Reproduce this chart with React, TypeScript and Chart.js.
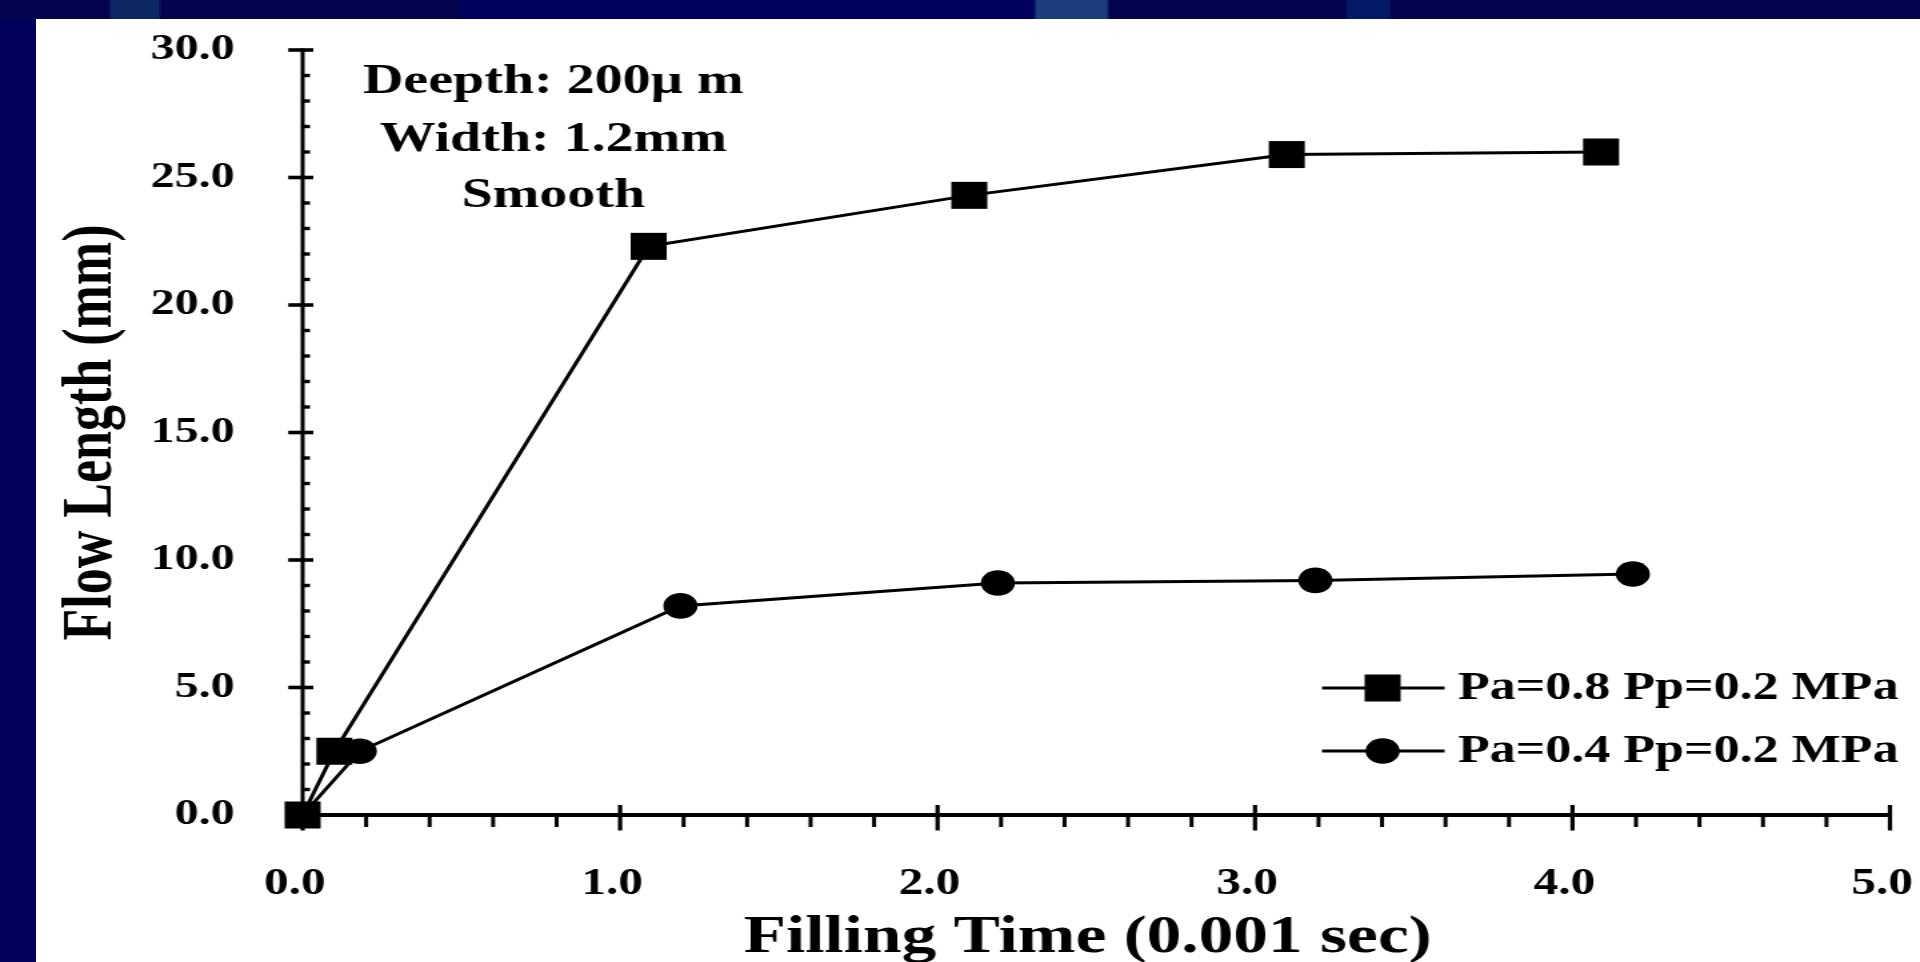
import React, { useEffect, useRef } from "react";
import { Chart, registerables } from "chart.js";

Chart.register(...registerables);

// ---- data ----
const squareTimes = [0, 0.1, 1.09, 2.1, 3.1, 4.09];
const squareLengths = [0, 2.5, 22.3, 24.3, 25.9, 26.0];
const circleTimes = [0, 0.18, 1.19, 2.19, 3.19, 4.19];
const circleLengths = [0, 2.5, 8.2, 9.1, 9.2, 9.45];
const seriesLabels = ["Pa=0.8 Pp=0.2 MPa", "Pa=0.4 Pp=0.2 MPa"];
const annotationLines = ["Deepth: 200\u00b5 m", "Width: 1.2mm", "Smooth"];
const xTitle = "Filling Time (0.001 sec) ";
const yTitle = "Flow Length (mm)";
const xRange = [0, 5];
const yRange = [0, 30];
const xMajorStep = 1;
const xMinorStep = 0.2;
const yMajorStep = 5;
const yMinorStep = 1;

// ---- layout constants ----
const FONT = '"Liberation Serif", "Times New Roman", serif';
const STRETCH = 4 / 3; // original slide image is stretched horizontally
const PANEL_W = 1884;
const PANEL_H = 943;
const INNER_W = Math.round(PANEL_W / STRETCH);

const axesPlugin = {
  id: "customAxes",
  beforeDatasetsDraw(chart: any) {
    const { ctx, scales } = chart;
    const xs = scales.x;
    const ys = scales.y;
    const x0 = xs.getPixelForValue(xRange[0]);
    const x1 = xs.getPixelForValue(xRange[1]);
    const y0 = ys.getPixelForValue(yRange[0]);
    const y1 = ys.getPixelForValue(yRange[1]);
    ctx.save();
    ctx.strokeStyle = "#000";
    ctx.lineCap = "butt";
    const seg = (ax: number, ay: number, bx: number, by: number, w: number) => {
      ctx.lineWidth = w;
      ctx.beginPath();
      ctx.moveTo(ax, ay);
      ctx.lineTo(bx, by);
      ctx.stroke();
    };
    // axis lines
    seg(x0 - 1.5, y0, x1 + 1.5, y0, 3.8);
    seg(x0, y1 - 1.5, x0, y0, 3);
    // x ticks
    const nx = Math.round((xRange[1] - xRange[0]) / xMinorStep);
    const perMajorX = Math.round(xMajorStep / xMinorStep);
    for (let i = 0; i <= nx; i++) {
      const px = xs.getPixelForValue(xRange[0] + i * xMinorStep);
      if (i % perMajorX === 0) seg(px, y0 - 10, px, y0 + 15.5, 3.2);
      else seg(px, y0, px, y0 + 12, 3);
    }
    // y ticks
    const ny = Math.round((yRange[1] - yRange[0]) / yMinorStep);
    const perMajorY = Math.round(yMajorStep / yMinorStep);
    for (let i = 0; i <= ny; i++) {
      const py = ys.getPixelForValue(yRange[0] + i * yMinorStep);
      if (i % perMajorY === 0) seg(x0 - 10.8, py, x0 + 8, py, 3.6);
      else seg(x0, py, x0 + 5.5, py, 3.4);
    }
    ctx.restore();
  },
  afterDraw(chart: any) {
    const { ctx, chartArea } = chart;
    ctx.save();
    ctx.fillStyle = "#000";
    // annotation text
    ctx.font = `bold 42px ${FONT}`;
    ctx.textAlign = "center";
    ctx.textBaseline = "alphabetic";
    const ax = chartArea.left + 188;
    const offsets = [43, 101, 157];
    annotationLines.forEach((t, i) => {
      ctx.fillText(t, ax, chartArea.top + offsets[i]);
    });
    // legend
    const rowsY = [chartArea.bottom - 127, chartArea.bottom - 64];
    const lineStart = chartArea.right - 426;
    const lineEnd = chartArea.right - 334;
    const markX = chartArea.right - 380.5;
    const textX = chartArea.right - 324;
    ctx.font = `bold 39px ${FONT}`;
    ctx.textAlign = "left";
    ctx.textBaseline = "middle";
    chart.data.datasets.forEach((ds: any, i: number) => {
      const y = rowsY[i];
      ctx.strokeStyle = "#000";
      ctx.lineWidth = 2.8;
      ctx.beginPath();
      ctx.moveTo(lineStart, y);
      ctx.lineTo(lineEnd, y);
      ctx.stroke();
      ctx.fillStyle = "#000";
      if (ds.pointStyle === "rect") {
        ctx.fillRect(markX - 13.5, y - 13.5, 27, 27);
      } else {
        ctx.beginPath();
        ctx.arc(markX, y, 12.8, 0, Math.PI * 2);
        ctx.fill();
      }
      ctx.fillText(ds.label, textX, y + 1);
    });
    ctx.restore();
  },
};

export default function App() {
  const canvasRef = useRef<HTMLCanvasElement | null>(null);

  useEffect(() => {
    document.body.style.margin = "0";
    const canvas = canvasRef.current;
    if (!canvas) return;
    const chart = new Chart(canvas, {
      type: "line",
      data: {
        datasets: [
          {
            label: seriesLabels[0],
            data: squareTimes.map((t, i) => ({ x: t, y: squareLengths[i] })),
            borderColor: "#000",
            backgroundColor: "#000",
            borderWidth: 3,
            pointStyle: "rect",
            pointRadius: 19.1,
            pointBackgroundColor: "#000",
            pointBorderWidth: 0,
            tension: 0,
            clip: false as any,
          },
          {
            label: seriesLabels[1],
            data: circleTimes.map((t, i) => ({ x: t, y: circleLengths[i] })),
            borderColor: "#000",
            backgroundColor: "#000",
            borderWidth: 3,
            pointStyle: "circle",
            pointRadius: 12.8,
            pointBackgroundColor: "#000",
            pointBorderWidth: 0,
            tension: 0,
            clip: false as any,
          },
        ],
      },
      options: {
        animation: false,
        responsive: false,
        devicePixelRatio: 1,
        layout: { padding: { top: 31, right: 22.5, bottom: 0, left: 0 } },
        plugins: {
          legend: { display: false },
          tooltip: { enabled: false },
        },
        scales: {
          x: {
            type: "linear",
            min: xRange[0],
            max: xRange[1],
            grid: { display: false },
            border: { display: false },
            ticks: {
              stepSize: xMajorStep,
              autoSkip: false,
              maxRotation: 0,
              padding: 39,
              labelOffset: -6,
              color: "#000",
              font: { family: FONT, size: 37, weight: "bold" },
              callback: (v: any) => Number(v).toFixed(1),
            },
            title: {
              display: true,
              text: xTitle,
              color: "#000",
              font: { family: FONT, size: 52, weight: "bold", lineHeight: 0.9 },
              padding: 0,
            },
            afterFit: (s: any) => {
              s.height = 147;
              s.paddingLeft = 0;
              s.paddingRight = 0;
            },
          },
          y: {
            type: "linear",
            min: yRange[0],
            max: yRange[1],
            grid: { display: false },
            border: { display: false },
            ticks: {
              stepSize: yMajorStep,
              autoSkip: false,
              padding: 43,
              color: "#000",
              font: { family: FONT, size: 36, weight: "bold" },
              callback: (v: any) => Number(v).toFixed(1),
            },
            title: {
              display: true,
              text: yTitle,
              color: "#000",
              font: { family: FONT, size: 52, weight: "bold", lineHeight: 1.2 },
              padding: { top: 11, bottom: 0 },
            },
            afterFit: (s: any) => {
              s.width = 200;
              s.paddingTop = 0;
              s.paddingBottom = 0;
            },
          },
        },
      } as any,
      plugins: [axesPlugin],
    });
    return () => chart.destroy();
  }, []);

  const topBar =
    "linear-gradient(to right, #03034f 0px, #03034f 108px, #0d2664 112px, #0d2664 158px, #03034f 162px, #03034f 459px, #00005f 461px, #00005f 1033px, #1b3d7e 1037px, #1b3d7e 1106px, #03034f 1110px, #03034f 1345px, #051a66 1349px, #051a66 1388px, #03034f 1392px, #03034f 1920px)";

  return (
    <div
      style={{
        position: "fixed",
        left: 0,
        top: 0,
        width: 1920,
        height: 962,
        background: "#01015a",
        overflow: "hidden",
      }}
    >
      <div
        style={{
          position: "absolute",
          left: 0,
          top: 0,
          width: 1920,
          height: 19,
          background: topBar,
        }}
      />
      <div
        style={{
          position: "absolute",
          left: 36,
          top: 19,
          width: PANEL_W,
          height: PANEL_H,
          background: "#ffffff",
        }}
      >
        <canvas
          ref={canvasRef}
          width={INNER_W}
          height={PANEL_H}
          style={{ display: "block", width: PANEL_W + "px", height: PANEL_H + "px" }}
        />
      </div>
    </div>
  );
}
